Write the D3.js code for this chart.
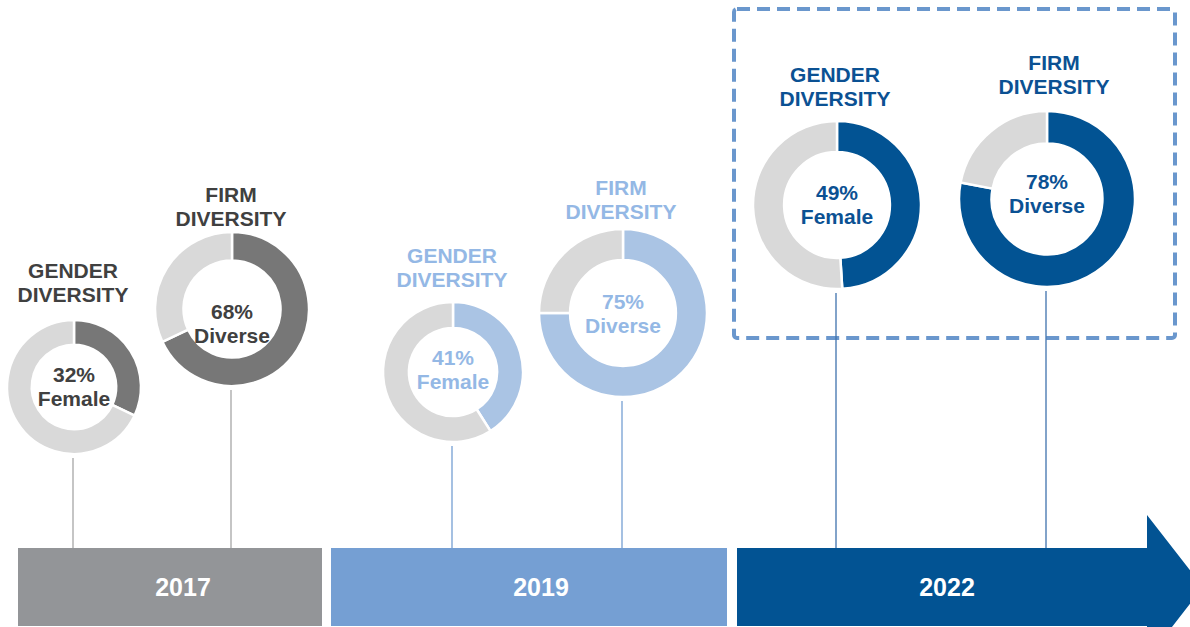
<!DOCTYPE html>
<html><head><meta charset="utf-8">
<script src="https://cdn.jsdelivr.net/npm/d3@7"></script>
<style>
html,body{margin:0;padding:0;background:#fff;}
svg{display:block;font-family:"Liberation Sans",Arial,sans-serif;font-weight:bold;}
</style></head>
<body>
<svg id="c" width="1190" height="627"></svg>
<script>
// ---- data ----
const years = ["2017", "2019", "2022"];
const metrics = ["GENDER DIVERSITY", "FIRM DIVERSITY"];
const genderFemalePct = [32, 41, 49];
const firmDiversePct = [68, 75, 78];
const centerLabels = ["Female", "Diverse"];

// ---- layout / style ----
const yearStyle = [
  {bar:"#939598", accent:"#777777", text:"#404040", line:"#a6a6a6", x0:18, x1:322, lx:183},
  {bar:"#759fd3", accent:"#aac4e4", text:"#94b8e5", line:"#759fd3", x0:331, x1:727, lx:541},
  {bar:"#025393", accent:"#025393", text:"#0b5193", line:"#3f72ad", x0:737, x1:1147, lx:947}
];
// per donut [year][metric]: center, outer radius, title position
const donutLayout = [
  [{cx:74, cy:387, r:67, tx:73, ty:278, cty:382}, {cx:232, cy:309, r:77, tx:231, ty:202, cty:319}],
  [{cx:453, cy:372, r:70, tx:452, ty:263, cty:365}, {cx:623, cy:313, r:84, tx:621, ty:195, cty:309}],
  [{cx:837, cy:205, r:84, tx:835, ty:82, cty:200}, {cx:1047, cy:199, r:88, tx:1054, ty:70, cty:189}]
];
const barTop = 548, barBottom = 626;
const grey = "#d9d9d9";

const svg = d3.select("#c");

// dashed highlight box around the latest year
svg.append("rect")
  .attr("x", 734).attr("y", 9).attr("width", 441).attr("height", 329)
  .attr("rx", 3)
  .attr("fill", "none").attr("stroke", "#6a97cd").attr("stroke-width", 4)
  .attr("stroke-dasharray", "13 7");

const pie = d3.pie().sort(null).value(d => d.v);
const yBar = d3.scaleLinear().domain([0, 1]).range([barTop, barBottom]);

years.forEach((yr, i) => {
  const st = yearStyle[i];
  // bar
  if (i < 2) {
    svg.append("rect").attr("x", st.x0).attr("y", yBar(0))
      .attr("width", st.x1 - st.x0).attr("height", yBar(1) - yBar(0))
      .attr("fill", st.bar);
  } else {
    const mid = (yBar(0) + yBar(1)) / 2;
    const headTop = 515, headHalf = mid - headTop, tipX = st.x1 + headHalf * 0.78;
    const p = d3.path();
    p.moveTo(st.x0, yBar(0));
    p.lineTo(st.x1, yBar(0));
    p.lineTo(st.x1, headTop);
    p.lineTo(tipX, mid);
    p.lineTo(st.x1, mid + headHalf);
    p.lineTo(st.x1, yBar(1));
    p.lineTo(st.x0, yBar(1));
    p.closePath();
    svg.append("path").attr("d", p.toString()).attr("fill", st.bar);
  }
  svg.append("text").attr("x", st.lx).attr("y", 596)
    .attr("text-anchor", "middle").attr("fill", "#fff").attr("font-size", 25)
    .text(yr);

  const vals = [genderFemalePct[i], firmDiversePct[i]];
  vals.forEach((v, m) => {
    const L = donutLayout[i][m];
    const g = svg.append("g").attr("transform", `translate(${L.cx},${L.cy})`);
    const arc = d3.arc().innerRadius(L.r * 0.63).outerRadius(L.r);
    g.selectAll("path").data(pie([{v: v, c: st.accent}, {v: 100 - v, c: grey}]))
      .enter().append("path")
      .attr("d", arc).attr("fill", d => d.data.c)
      .attr("stroke", "#fff").attr("stroke-width", 2.5);
    // connector line
    svg.append("line").attr("x1", L.cx - 1).attr("x2", L.cx - 1)
      .attr("y1", L.cy + L.r + 4).attr("y2", barTop)
      .attr("stroke", st.line).attr("stroke-width", 1.3);
    // title
    const words = metrics[m].split(" ");
    words.forEach((w, k) => {
      svg.append("text").attr("x", L.tx).attr("y", L.ty + k * 24)
        .attr("text-anchor", "middle").attr("fill", st.text).attr("font-size", 21)
        .text(w);
    });
    // centre text
    svg.append("text").attr("x", L.cx).attr("y", L.cty)
      .attr("text-anchor", "middle").attr("fill", st.text).attr("font-size", 21)
      .text(v + "%");
    svg.append("text").attr("x", L.cx).attr("y", L.cty + 24)
      .attr("text-anchor", "middle").attr("fill", st.text).attr("font-size", 21)
      .text(centerLabels[m]);
  });
});
</script>
</body></html>
